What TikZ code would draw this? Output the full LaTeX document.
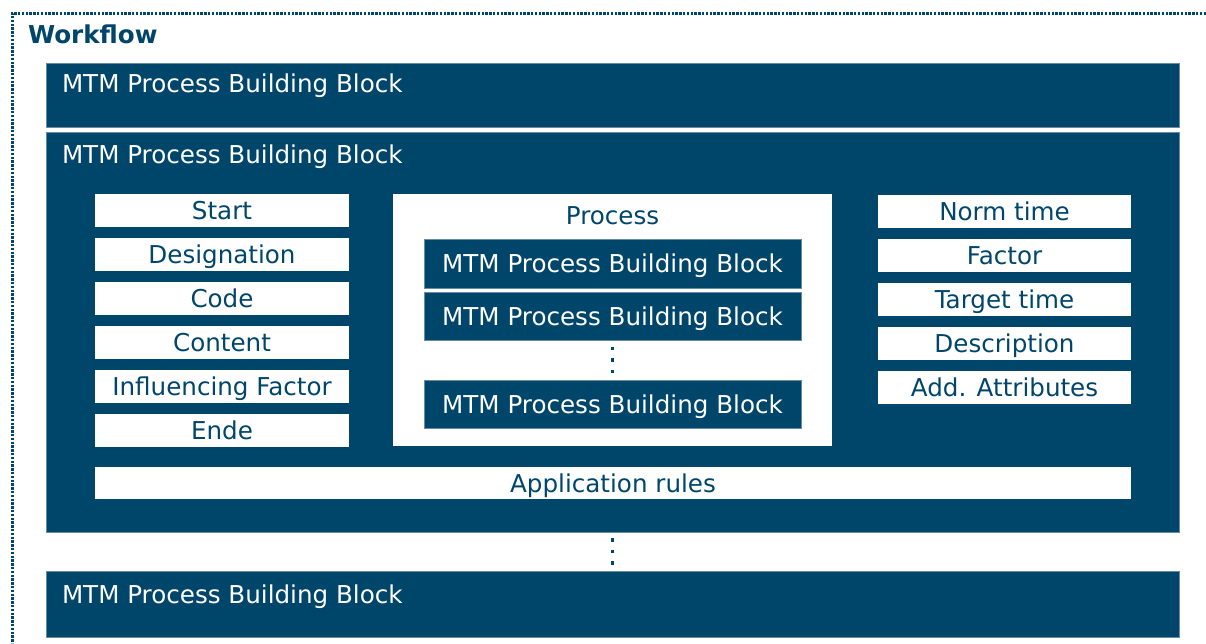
\documentclass[tikz,border=0pt]{standalone}
\usepackage{fontspec}
\setmainfont{DejaVu Sans}
\usetikzlibrary{positioning,calc}
\definecolor{mtmblue}{HTML}{00466B}
\definecolor{mtmedge}{HTML}{6A8CA3}

\begin{document}
\begin{tikzpicture}[
        x=1pt, y=-1pt,
        font=\fontsize{24.6}{28}\selectfont,
        every node/.style={inner sep=0pt, outer sep=0pt},
        frameline/.style={draw=mtmblue, line width=3pt, dash pattern=on 2.4pt off 1.4pt},
        bigblock/.style={fill=mtmblue, draw=mtmedge, line width=0.8pt, anchor=north west, minimum width=1133pt},
        blocktitle/.style={text=white, anchor=base west},
        field/.style={fill=white, text=mtmblue, minimum width=254pt, minimum height=33pt, text height=18pt, text depth=0pt},
        procblock/.style={fill=mtmblue, draw=mtmedge, line width=0.8pt, text=white, minimum width=377pt, minimum height=48pt, text height=18pt, text depth=0pt},
        vdot/.style={fill=mtmblue},
    ]
    \useasboundingbox (0,0) rectangle (1206,643);
    % dotted workflow frame
    \draw[frameline] (1206,13) -- (12,13) -- (12,643);
    \node[anchor=base west, text=mtmblue, font=\fontsize{24.6}{28}\selectfont\bfseries] (wf) at (28,43) {Workflow};

    % building blocks
    \node[bigblock, minimum height=64pt] (blk1) at (46,63) {};
    \node[blocktitle] (t1) at ($(blk1.north west)+(16,29)$) {MTM Process Building Block};
    \node[bigblock, minimum height=400pt] (blk2) at (46,132) {};
    \node[blocktitle] (t2) at ($(blk2.north west)+(16,31)$) {MTM Process Building Block};
    \node[bigblock, minimum height=66pt] (blk3) at (46,571) {};
    \node[blocktitle] (t3) at ($(blk3.north west)+(16,32)$) {MTM Process Building Block};

    % left column
    \node[field, anchor=north west] (start) at (95,194) {Start};
    \node[field, below=11pt of start] (desig) {Designation};
    \node[field, below=11pt of desig] (code) {Code};
    \node[field, below=11pt of code] (content) {Content};
    \node[field, below=11pt of content] (infl) {Influencing Factor};
    \node[field, below=11pt of infl] (ende) {Ende};

    % process
    \node[fill=white, anchor=north west, minimum width=439pt, minimum height=252pt] (proc) at (393,194) {};
    \node[anchor=base, text=mtmblue] (proclbl) at ($(proc.north)+(0,30)$) {Process};
    \node[procblock, minimum height=49pt, anchor=north west] (pbb1) at (424,239) {MTM Process Building Block};
    \node[procblock, below=4pt of pbb1] (pbb2) {MTM Process Building Block};
    \node[procblock, anchor=north west] (pbb3) at (424,380) {MTM Process Building Block};
    \coordinate (gap1) at ($(pbb2.south)!0.5!(pbb3.north)$);
    \foreach \k in {-1,0,1}
        \fill[vdot] ([shift={(-1.6,\k*11.5-1.6)}]gap1) rectangle ++(3.2,3.2);

    % right column
    \node[field, minimum width=253pt, anchor=north west] (norm) at (878,195) {Norm time};
    \node[field, minimum width=253pt, below=11pt of norm] (factor) {Factor};
    \node[field, minimum width=253pt, below=11pt of factor] (target) {Target time};
    \node[field, minimum width=253pt, below=11pt of target] (descr) {Description};
    \node[field, minimum width=253pt, below=11pt of descr] (attr) {Add. Attributes};

    \node[field, minimum width=1036pt, minimum height=32pt, anchor=north west] (rules) at (95,467) {Application rules};

    \coordinate (gap2) at ($(blk2.south)!0.5!(blk3.north)$);
    \foreach \k in {-1,0,1}
        \fill[vdot] ([shift={(-1.6,\k*11.5-1.6)}]gap2) rectangle ++(3.2,3.2);
\end{tikzpicture}
\end{document}
